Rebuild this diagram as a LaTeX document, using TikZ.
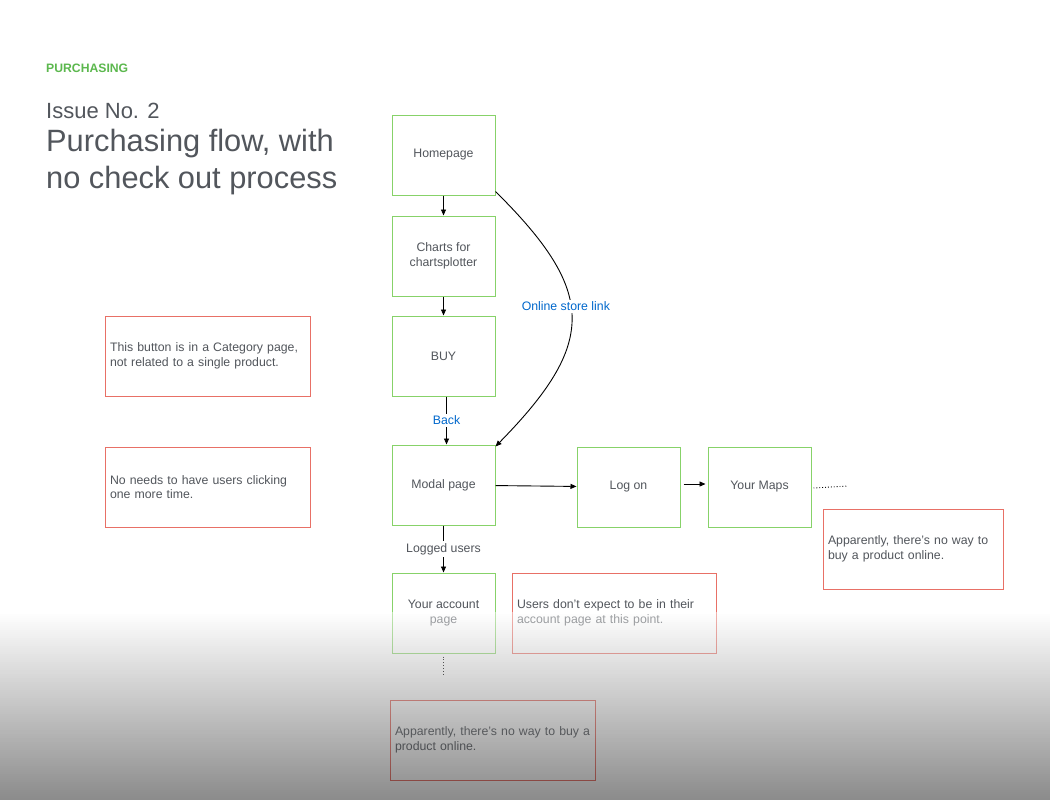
\documentclass[tikz,border=0pt]{standalone}
\usepackage{fontspec}
\setmainfont{Liberation Sans}
\usetikzlibrary{arrows.meta}
\definecolor{txt}{RGB}{82,86,92}
\definecolor{boxgreen}{RGB}{135,210,105}
\definecolor{boxred}{RGB}{232,112,102}
\definecolor{titlegreen}{RGB}{92,184,78}
\definecolor{linkblue}{RGB}{0,104,204}
\tikzset{
  flowbox/.style={draw=boxgreen, line width=1pt, minimum width=103pt, minimum height=80pt,
    inner sep=0pt, align=center, text=txt, font=\fontsize{12.3}{15}\selectfont},
  notebox/.style={draw=boxred, line width=1pt, minimum height=80pt, inner xsep=5pt,
    inner ysep=0pt, align=left, text=txt, font=\fontsize{12.3}{14.5}\selectfont},
  conn/.style={line width=0.9pt, -{Triangle[length=6pt,width=5pt]}},
  dots/.style={line width=0.9pt, dotted},
  linklabel/.style={fill=white, inner sep=2pt, text=linkblue, font=\fontsize{12.3}{14}\selectfont},
  graylabel/.style={fill=white, inner sep=2pt, text=txt, font=\fontsize{12.3}{14}\selectfont}
}
\begin{document}
\begin{tikzpicture}[x=1pt,y=-1pt]
\useasboundingbox (0,0) rectangle (1050,800);
\fill[white] (0,0) rectangle (1050,800);

% titles
\node[anchor=base west, inner sep=0pt, text=titlegreen, font=\bfseries\fontsize{12.2}{14}\selectfont] (kicker) at (46,73) {PURCHASING};
\node[anchor=base west, inner sep=0pt, text=txt, font=\fontsize{22}{26}\selectfont] (issue) at (46,118) {Issue No. 2};
\node[anchor=base west, inner sep=0pt, text=txt, font=\fontsize{30.8}{37}\selectfont] (title1) at (46,151) {Purchasing flow, with};
\node[anchor=base west, inner sep=0pt, text=txt, font=\fontsize{30.8}{37}\selectfont] (title2) at (46,188) {no check out process};

% flow boxes
\node[flowbox] (home) at (443.5,155) {\raisebox{-2pt}{Homepage}};
\node[flowbox] (charts) at (443.5,256) {Charts for\\chartsplotter};
\node[flowbox] (buy) at (443.5,356) {BUY};
\node[flowbox] (modal) at (443.5,485) {Modal page};
\node[flowbox] (logon) at (628.5,487) {Log on};
\node[flowbox] (maps) at (759.5,487) {Your Maps};
\node[flowbox] (account) at (443.5,613) {Your account\\page};

% note boxes
\node[notebox, text width=195pt] (note1) at (207.5,356) {This button is in a Category page,\\not related to a single product.};
\node[notebox, text width=195pt] (note2) at (207.5,487) {No needs to have users clicking\\one more time.};
\node[notebox, text width=194pt] (note3) at (614,613) {Users don’t expect to be in their\\account page at this point.};
\node[notebox, text width=170pt] (note4) at (913,549) {\mbox{Apparently, there’s no way to}\\buy a product online.};
\node[notebox, text width=195pt] (note5) at (492.5,740) {\mbox{Apparently, there’s no way to buy a}\\product online.};

% connectors
\draw[conn] (home) -- (charts);
\draw[conn] (charts) -- (buy);
\draw[conn] ([xshift=3pt]buy.south) -- ([xshift=3pt]modal.north) node[midway, linklabel] (backlbl) {Back};
\draw[conn] ([yshift=4pt]home.south east) .. controls (597,292) and (597,343) .. ([yshift=-2pt]modal.north east)
  node[pos=0.45, xshift=-5pt, linklabel] (storelbl) {Online store link};
\draw[conn] (modal) -- (logon);
\draw[conn, shorten <=3pt, shorten >=2pt] ([yshift=3pt]logon.east) -- ([yshift=3pt]maps.west);
\coordinate (mapsend) at (848,486);
\draw[dots] ([xshift=2pt,yshift=-1pt]maps.east) -- (mapsend);
\draw[conn] (modal) -- (account) node[midway, graylabel] (loggedlbl) {Logged users};
\coordinate (accend) at (443.5,676);
\draw[dots] ([yshift=-3pt]account.south) -- (accend);

% bottom fade overlay (white to black, 45% over the picture)
\begin{scope}[transparency group, opacity=0.45]
\foreach \i in {0,...,93}{
  \pgfmathsetmacro\pct{100*\i/93}
  \fill[black!\pct!white] (0,612+2*\i) rectangle (1050,614.6+2*\i);
}
\end{scope}
\end{tikzpicture}
\end{document}
